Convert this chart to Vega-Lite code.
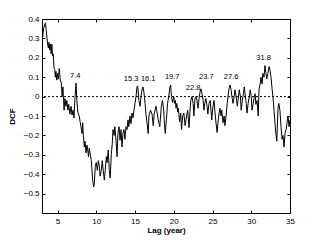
{
  "$schema": "https://vega.github.io/schema/vega-lite/v6.json",
  "autosize": "none",
  "width": 248,
  "height": 194,
  "padding": {"left": 42, "top": 19, "right": 31, "bottom": 29},
  "background": "white",
  "config": {
    "view": {"stroke": "black", "strokeWidth": 1},
    "font": "Liberation Sans",
    "axis": {"domain": false, "grid": false, "labelColor": "black", "labelFont": "Liberation Sans", "labelFontSize": 8, "titleFont": "Liberation Sans", "titleFontSize": 8, "titleFontWeight": "bold", "titleColor": "black"}
  },
  "datasets": {
    "dcf": [
      {"lag":3.0,"dcf":0.33},{"lag":3.1,"dcf":0.31},{"lag":3.2,"dcf":0.35},{"lag":3.35,"dcf":0.37},{"lag":3.45,"dcf":0.38},{"lag":3.55,"dcf":0.34},{"lag":3.65,"dcf":0.30},{"lag":3.73,"dcf":0.27},{"lag":3.82,"dcf":0.25},{"lag":3.9,"dcf":0.28},{"lag":4.0,"dcf":0.24},{"lag":4.08,"dcf":0.27},{"lag":4.18,"dcf":0.22},{"lag":4.27,"dcf":0.27},{"lag":4.36,"dcf":0.21},{"lag":4.45,"dcf":0.22},{"lag":4.55,"dcf":0.15},{"lag":4.64,"dcf":0.14},{"lag":4.72,"dcf":0.10},{"lag":4.8,"dcf":0.13},{"lag":4.9,"dcf":0.085},{"lag":5.0,"dcf":0.12},{"lag":5.1,"dcf":0.09},{"lag":5.23,"dcf":0.145},{"lag":5.36,"dcf":0.085},{"lag":5.49,"dcf":0.07},{"lag":5.6,"dcf":0.0},{"lag":5.7,"dcf":0.05},{"lag":5.78,"dcf":-0.02},{"lag":5.85,"dcf":-0.07},{"lag":5.95,"dcf":-0.01},{"lag":6.1,"dcf":-0.05},{"lag":6.2,"dcf":-0.02},{"lag":6.35,"dcf":-0.07},{"lag":6.45,"dcf":-0.04},{"lag":6.6,"dcf":-0.09},{"lag":6.75,"dcf":-0.05},{"lag":6.87,"dcf":-0.095},{"lag":7.0,"dcf":-0.07},{"lag":7.13,"dcf":-0.11},{"lag":7.25,"dcf":-0.01},{"lag":7.39,"dcf":0.07},{"lag":7.5,"dcf":-0.02},{"lag":7.62,"dcf":-0.08},{"lag":7.8,"dcf":-0.1},{"lag":7.92,"dcf":-0.13},{"lag":8.03,"dcf":-0.155},{"lag":8.16,"dcf":-0.19},{"lag":8.25,"dcf":-0.135},{"lag":8.33,"dcf":-0.2},{"lag":8.46,"dcf":-0.26},{"lag":8.55,"dcf":-0.23},{"lag":8.68,"dcf":-0.29},{"lag":8.8,"dcf":-0.25},{"lag":8.9,"dcf":-0.275},{"lag":9.0,"dcf":-0.31},{"lag":9.1,"dcf":-0.265},{"lag":9.2,"dcf":-0.29},{"lag":9.36,"dcf":-0.33},{"lag":9.45,"dcf":-0.38},{"lag":9.53,"dcf":-0.43},{"lag":9.67,"dcf":-0.465},{"lag":9.75,"dcf":-0.45},{"lag":9.87,"dcf":-0.36},{"lag":10.0,"dcf":-0.34},{"lag":10.14,"dcf":-0.38},{"lag":10.27,"dcf":-0.33},{"lag":10.4,"dcf":-0.36},{"lag":10.5,"dcf":-0.41},{"lag":10.65,"dcf":-0.38},{"lag":10.78,"dcf":-0.33},{"lag":10.9,"dcf":-0.38},{"lag":11.04,"dcf":-0.43},{"lag":11.16,"dcf":-0.38},{"lag":11.3,"dcf":-0.31},{"lag":11.4,"dcf":-0.34},{"lag":11.55,"dcf":-0.275},{"lag":11.68,"dcf":-0.38},{"lag":11.8,"dcf":-0.42},{"lag":11.94,"dcf":-0.3},{"lag":12.07,"dcf":-0.24},{"lag":12.16,"dcf":-0.17},{"lag":12.3,"dcf":-0.2},{"lag":12.4,"dcf":-0.155},{"lag":12.55,"dcf":-0.225},{"lag":12.68,"dcf":-0.31},{"lag":12.8,"dcf":-0.19},{"lag":12.94,"dcf":-0.155},{"lag":13.07,"dcf":-0.225},{"lag":13.2,"dcf":-0.17},{"lag":13.32,"dcf":-0.26},{"lag":13.45,"dcf":-0.19},{"lag":13.58,"dcf":-0.17},{"lag":13.7,"dcf":-0.22},{"lag":13.84,"dcf":-0.155},{"lag":13.97,"dcf":-0.17},{"lag":14.1,"dcf":-0.12},{"lag":14.2,"dcf":-0.155},{"lag":14.35,"dcf":-0.1},{"lag":14.48,"dcf":-0.14},{"lag":14.6,"dcf":-0.085},{"lag":14.74,"dcf":-0.11},{"lag":14.87,"dcf":-0.07},{"lag":15.0,"dcf":-0.035},{"lag":15.13,"dcf":0.0},{"lag":15.26,"dcf":0.05},{"lag":15.35,"dcf":0.055},{"lag":15.5,"dcf":-0.02},{"lag":15.65,"dcf":-0.05},{"lag":15.78,"dcf":0.0},{"lag":15.9,"dcf":0.035},{"lag":16.03,"dcf":0.05},{"lag":16.16,"dcf":0.02},{"lag":16.3,"dcf":-0.035},{"lag":16.4,"dcf":-0.085},{"lag":16.55,"dcf":-0.135},{"lag":16.7,"dcf":-0.19},{"lag":16.8,"dcf":-0.1},{"lag":17.0,"dcf":-0.07},{"lag":17.2,"dcf":-0.09},{"lag":17.35,"dcf":-0.15},{"lag":17.48,"dcf":-0.09},{"lag":17.7,"dcf":-0.05},{"lag":17.8,"dcf":-0.07},{"lag":18.0,"dcf":-0.12},{"lag":18.2,"dcf":-0.155},{"lag":18.3,"dcf":-0.1},{"lag":18.4,"dcf":-0.05},{"lag":18.55,"dcf":-0.02},{"lag":18.7,"dcf":-0.07},{"lag":18.8,"dcf":-0.14},{"lag":18.9,"dcf":-0.19},{"lag":19.05,"dcf":-0.12},{"lag":19.2,"dcf":-0.035},{"lag":19.35,"dcf":0.0},{"lag":19.5,"dcf":0.05},{"lag":19.6,"dcf":0.06},{"lag":19.7,"dcf":0.0},{"lag":19.85,"dcf":-0.03},{"lag":20.0,"dcf":0.0},{"lag":20.1,"dcf":-0.035},{"lag":20.2,"dcf":-0.02},{"lag":20.3,"dcf":-0.06},{"lag":20.4,"dcf":-0.035},{"lag":20.5,"dcf":-0.08},{"lag":20.6,"dcf":-0.06},{"lag":20.75,"dcf":-0.13},{"lag":20.9,"dcf":-0.085},{"lag":21.0,"dcf":-0.17},{"lag":21.15,"dcf":-0.1},{"lag":21.3,"dcf":-0.085},{"lag":21.47,"dcf":-0.15},{"lag":21.65,"dcf":-0.1},{"lag":21.8,"dcf":-0.07},{"lag":21.97,"dcf":-0.16},{"lag":22.1,"dcf":-0.07},{"lag":22.2,"dcf":-0.02},{"lag":22.35,"dcf":0.0},{"lag":22.5,"dcf":-0.035},{"lag":22.6,"dcf":-0.1},{"lag":22.74,"dcf":-0.01},{"lag":22.87,"dcf":0.0},{"lag":23.0,"dcf":-0.02},{"lag":23.13,"dcf":-0.06},{"lag":23.26,"dcf":-0.01},{"lag":23.4,"dcf":0.025},{"lag":23.5,"dcf":0.04},{"lag":23.65,"dcf":0.015},{"lag":23.8,"dcf":-0.02},{"lag":23.9,"dcf":-0.07},{"lag":24.0,"dcf":-0.035},{"lag":24.15,"dcf":-0.01},{"lag":24.3,"dcf":-0.05},{"lag":24.4,"dcf":-0.09},{"lag":24.55,"dcf":-0.035},{"lag":24.7,"dcf":-0.02},{"lag":24.8,"dcf":-0.07},{"lag":24.9,"dcf":-0.12},{"lag":25.06,"dcf":-0.05},{"lag":25.2,"dcf":-0.02},{"lag":25.3,"dcf":-0.07},{"lag":25.45,"dcf":-0.135},{"lag":25.6,"dcf":-0.185},{"lag":25.7,"dcf":-0.135},{"lag":25.85,"dcf":-0.085},{"lag":25.97,"dcf":-0.06},{"lag":26.1,"dcf":-0.1},{"lag":26.2,"dcf":-0.07},{"lag":26.35,"dcf":-0.135},{"lag":26.5,"dcf":-0.1},{"lag":26.6,"dcf":-0.15},{"lag":26.75,"dcf":-0.1},{"lag":26.9,"dcf":-0.035},{"lag":27.0,"dcf":0.0},{"lag":27.1,"dcf":0.035},{"lag":27.26,"dcf":0.06},{"lag":27.4,"dcf":0.035},{"lag":27.5,"dcf":0.0},{"lag":27.65,"dcf":-0.035},{"lag":27.8,"dcf":0.0},{"lag":27.9,"dcf":0.035},{"lag":28.05,"dcf":0.0},{"lag":28.2,"dcf":-0.05},{"lag":28.3,"dcf":-0.02},{"lag":28.45,"dcf":0.035},{"lag":28.6,"dcf":0.0},{"lag":28.7,"dcf":-0.07},{"lag":28.85,"dcf":-0.02},{"lag":29.0,"dcf":0.015},{"lag":29.1,"dcf":0.05},{"lag":29.2,"dcf":0.015},{"lag":29.35,"dcf":-0.035},{"lag":29.45,"dcf":-0.085},{"lag":29.6,"dcf":-0.035},{"lag":29.75,"dcf":0.0},{"lag":29.87,"dcf":0.035},{"lag":30.0,"dcf":0.0},{"lag":30.1,"dcf":-0.07},{"lag":30.26,"dcf":-0.035},{"lag":30.4,"dcf":0.0},{"lag":30.5,"dcf":0.015},{"lag":30.6,"dcf":-0.04},{"lag":30.75,"dcf":-0.02},{"lag":30.9,"dcf":-0.1},{"lag":31.0,"dcf":0.035},{"lag":31.15,"dcf":0.065},{"lag":31.25,"dcf":0.1},{"lag":31.4,"dcf":0.065},{"lag":31.5,"dcf":0.12},{"lag":31.65,"dcf":0.1},{"lag":31.77,"dcf":0.16},{"lag":31.9,"dcf":0.12},{"lag":32.0,"dcf":0.09},{"lag":32.15,"dcf":0.12},{"lag":32.3,"dcf":0.155},{"lag":32.4,"dcf":0.14},{"lag":32.55,"dcf":0.1},{"lag":32.7,"dcf":0.035},{"lag":32.8,"dcf":0.0},{"lag":32.94,"dcf":-0.07},{"lag":33.07,"dcf":-0.14},{"lag":33.2,"dcf":-0.2},{"lag":33.3,"dcf":-0.23},{"lag":33.45,"dcf":-0.06},{"lag":33.55,"dcf":-0.035},{"lag":33.7,"dcf":-0.07},{"lag":33.84,"dcf":-0.155},{"lag":33.97,"dcf":-0.22},{"lag":34.1,"dcf":-0.2},{"lag":34.23,"dcf":-0.26},{"lag":34.36,"dcf":-0.19},{"lag":34.5,"dcf":-0.17},{"lag":34.6,"dcf":-0.14},{"lag":34.74,"dcf":-0.1},{"lag":34.87,"dcf":-0.155},{"lag":35.0,"dcf":-0.12}
    ],
    "peaks": [
      {"lag":7.3,"dcf":0.105,"label":"7.4"},
      {"lag":14.5,"dcf":0.09,"label":"15.3"},
      {"lag":16.7,"dcf":0.093,"label":"16.1"},
      {"lag":19.8,"dcf":0.1,"label":"19.7"},
      {"lag":22.5,"dcf":0.045,"label":"22.8"},
      {"lag":24.2,"dcf":0.1,"label":"23.7"},
      {"lag":27.4,"dcf":0.1,"label":"27.6"},
      {"lag":31.6,"dcf":0.2,"label":"31.8"}
    ]
  },
  "resolve": {"axis": {"x": "independent", "y": "independent"}},
  "layer": [
    {
      "data": {"name": "dcf"},
      "mark": {"type": "line", "color": "black", "strokeWidth": 1, "clip": true},
      "encoding": {
        "x": {"field": "lag", "type": "quantitative", "scale": {"domain": [3, 35], "nice": false, "zero": false},
              "axis": {"orient": "bottom", "tickColor": "black", "tickSize": 0, "values": [5,10,15,20,25,30,35], "title": "Lag (year)", "labelPadding": 4, "titlePadding": 1, "labelFlush": false}},
        "y": {"field": "dcf", "type": "quantitative", "scale": {"domain": [-0.6, 0.4], "nice": false, "zero": false},
              "axis": {"orient": "left", "tickColor": "black", "tickSize": 0, "values": [-0.5,-0.4,-0.3,-0.2,-0.1,0,0.1,0.2,0.3,0.4], "format": ".1~f", "title": "DCF", "labelPadding": 3, "titlePadding": 7, "labelFlush": false}}
      }
    },
    {
      "data": {"name": "dcf"},
      "mark": {"type": "line", "opacity": 0},
      "encoding": {
        "x": {"field": "lag", "type": "quantitative",
              "axis": {"orient": "bottom", "offset": -194, "tickColor": "black", "tickSize": 3, "tickCount": 7, "labels": false, "title": null}},
        "y": {"field": "dcf", "type": "quantitative",
              "axis": {"orient": "right", "offset": -248, "tickColor": "black", "tickSize": 3, "tickCount": 10, "labels": false, "title": null}}
      }
    },
    {
      "data": {"name": "dcf"},
      "mark": {"type": "line", "opacity": 0},
      "encoding": {
        "x": {"field": "lag", "type": "quantitative",
              "axis": {"orient": "top", "offset": -194, "tickColor": "black", "tickSize": 3, "tickCount": 7, "labels": false, "title": null}},
        "y": {"field": "dcf", "type": "quantitative",
              "axis": {"orient": "left", "offset": -248, "tickColor": "black", "tickSize": 3, "tickCount": 10, "labels": false, "title": null}}
      }
    },
    {
      "data": {"values": [{"z": 0}]},
      "mark": {"type": "rule", "color": "black", "strokeWidth": 1, "strokeDash": [2, 2]},
      "encoding": {"y": {"field": "z", "type": "quantitative", "axis": null}}
    },
    {
      "data": {"name": "peaks"},
      "mark": {"type": "text", "fontSize": 7.5, "color": "black", "font": "Liberation Sans", "baseline": "middle", "align": "center"},
      "encoding": {
        "x": {"field": "lag", "type": "quantitative", "axis": null},
        "y": {"field": "dcf", "type": "quantitative", "axis": null},
        "text": {"field": "label"}
      }
    }
  ]
}
